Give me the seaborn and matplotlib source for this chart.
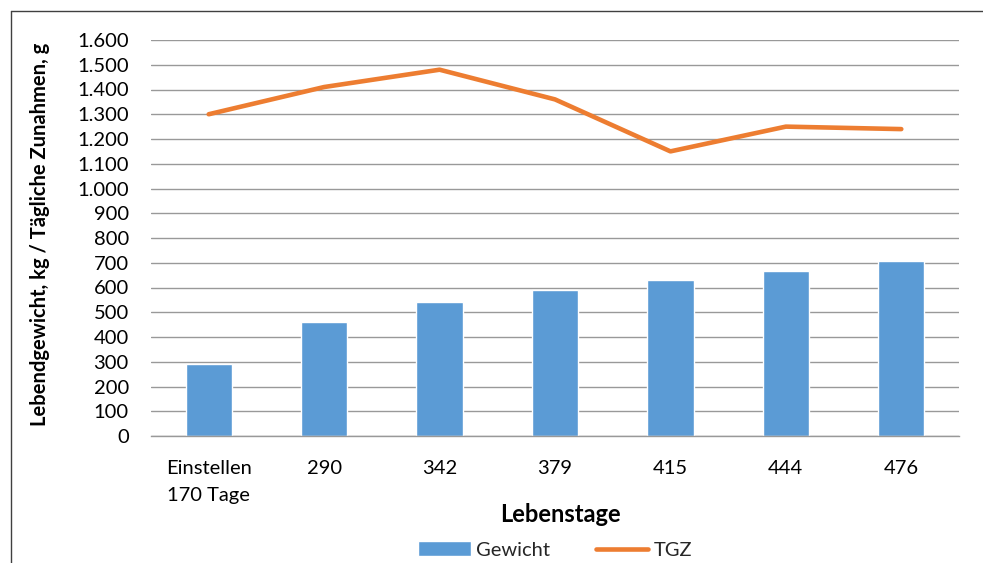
import matplotlib
matplotlib.use("Agg")
import matplotlib.pyplot as plt
import seaborn as sns
import numpy as np
import pandas as pd
from matplotlib.lines import Line2D

categories = ["Einstellen\n170 Tage", "290", "342", "379", "415", "444", "476"]
gewicht = [292, 462, 540, 590, 631, 667, 706]
tgz = [1300, 1410, 1480, 1360, 1150, 1250, 1240]
yticks = list(range(0, 1601, 100))
ytick_labels = [f"{v:,}".replace(",", ".") for v in yticks]

sns.set_theme(style="white")
plt.rcParams['font.family'] = ['Lato', 'DejaVu Sans']

BLUE = "#5B9BD5"
ORANGE = "#ED7D31"

fig = plt.figure(figsize=(9.83, 5.63), dpi=100)
ax = fig.add_axes([151/983, 1-436/563, (959-151)/983, (436-40)/563])

df = pd.DataFrame({"Lebenstage": categories, "Gewicht": gewicht, "TGZ": tgz})
sns.barplot(data=df, x="Lebenstage", y="Gewicht", color=BLUE, width=0.4,
            saturation=1, ax=ax, label="Gewicht", zorder=2)
sns.lineplot(x=np.arange(len(categories)), y=df["TGZ"], color=ORANGE,
             linewidth=3.3, ax=ax, label="TGZ", zorder=3,
             solid_capstyle="round")

ax.set_ylim(0, 1600)
ax.set_xlim(-0.5, len(categories) - 0.5)
ax.set_yticks(yticks)
ax.set_yticklabels(ytick_labels)
ax.set_xticks(range(len(categories)))
ax.set_xticklabels(categories)
for t in ax.get_xticklabels():
    t.set_linespacing(1.75)
ax.yaxis.grid(True, color="#999999", linewidth=1.0, zorder=0)
ax.set_axisbelow(True)
for s in ["top", "right", "left"]:
    ax.spines[s].set_visible(False)
ax.spines["bottom"].set_color("#999999")
ax.spines["bottom"].set_linewidth(1.0)
ax.tick_params(axis="both", length=0, labelsize=14.5, colors="black")
ax.tick_params(axis="y", pad=16)
ax.tick_params(axis="x", pad=17)

ax.set_ylabel("Lebendgewicht, kg / Tägliche Zunahmen, g", fontsize=14.5,
              fontweight="bold", color="black")
ax.yaxis.set_label_coords((40-151)/808, 0.51)
ax.yaxis.label.set_va("center")
ax.set_xlabel("Lebenstage", fontsize=17, fontweight="bold", color="black")
ax.xaxis.set_label_coords((560-151)/808, (436-514)/396)
ax.xaxis.label.set_va("center")

if ax.get_legend() is not None:
    ax.get_legend().remove()
handles, labels = ax.get_legend_handles_labels()
order = [labels.index("Gewicht"), labels.index("TGZ")]
leg = fig.legend([handles[i] for i in order], [labels[i] for i in order],
                 loc="center", bbox_to_anchor=(555/983, 1-550/563), ncol=2,
                 frameon=False, fontsize=14.5, handlelength=2.6,
                 handleheight=0.7, handletextpad=0.25, columnspacing=2.3)

# outer chart frame (partially visible)
fig.add_artist(Line2D([11/983, 1.0], [1-11/563, 1-11/563],
                      transform=fig.transFigure, color="#404040", linewidth=1))
fig.add_artist(Line2D([11/983, 11/983], [0, 1-11/563],
                      transform=fig.transFigure, color="#404040", linewidth=1))

fig.savefig("out.png", dpi=100, facecolor="white")
